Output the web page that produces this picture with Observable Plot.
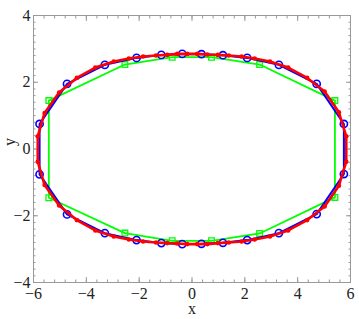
<!DOCTYPE html>
<html><head><meta charset="utf-8">
<script src="https://cdn.jsdelivr.net/npm/d3@7"></script>
<script src="https://cdn.jsdelivr.net/npm/@observablehq/plot@0.6"></script>
<style>body{margin:0;background:#fff}</style>
</head><body><div id="chart"></div>
<script>
// Red series (fine sampling), clockwise from upper left
const redX = [-5.84,-5.58,-5.03,-4.36,-3.66,-2.96,-2.39,-1.85,-1.36,-0.94,-0.56,-0.18,0.20,0.58,0.98,1.39,1.88,2.37,2.95,3.64,4.36,5.02,5.56,5.84,
              5.84,5.56,5.02,4.36,3.64,2.95,2.37,1.88,1.39,0.98,0.58,0.20,-0.18,-0.56,-0.94,-1.36,-1.85,-2.39,-2.96,-3.66,-4.36,-5.03,-5.58,-5.84];
const redY = [0.38,1.08,1.69,2.13,2.44,2.62,2.71,2.77,2.80,2.82,2.85,2.85,2.85,2.83,2.82,2.80,2.77,2.71,2.62,2.44,2.13,1.72,1.10,0.38,
              -0.38,-1.10,-1.72,-2.13,-2.44,-2.62,-2.71,-2.77,-2.80,-2.82,-2.85,-2.85,-2.85,-2.83,-2.82,-2.80,-2.77,-2.71,-2.62,-2.44,-2.13,-1.69,-1.08,-0.38];
// Blue series (medium sampling)
const blueX = [-5.77,-4.73,-3.30,-2.10,-1.16,-0.37,0.36,1.17,2.09,3.29,4.72,5.75,
               5.75,4.72,3.29,2.09,1.17,0.36,-0.37,-1.16,-2.10,-3.30,-4.73,-5.77];
const blueY = [0.75,1.95,2.52,2.73,2.82,2.85,2.84,2.81,2.73,2.52,1.95,0.75,
               -0.75,-1.95,-2.52,-2.73,-2.81,-2.84,-2.85,-2.82,-2.73,-2.52,-1.96,-0.76];
// Green series (coarse sampling)
const greenX = [-5.42,-2.54,-0.75,0.74,2.56,5.41, 5.41,2.56,0.74,-0.75,-2.54,-5.42];
const greenY = [1.45,2.53,2.75,2.75,2.53,1.45, -1.45,-2.53,-2.75,-2.75,-2.52,-1.46];
// Tick values
const xTicks = [-6,-4,-2,0,2,4,6];
const yTicks = [-4,-2,0,2,4];

const rows = (xs, ys) => xs.map((x, i) => ({x, y: ys[i]}));
const red = rows(redX, redY), blue = rows(blueX, blueY), green = rows(greenX, greenY);
const xMinor = d3.range(-6, 6.001, 0.4).map(v => +v.toFixed(2));
const yMinor = d3.range(-4, 4.001, 0.2).map(v => +v.toFixed(2));

const serif = "'Liberation Serif','Times New Roman',serif";
const tickColor = "#999";
const tickMarks = [];
for (const a of ["bottom","top"]) {
  tickMarks.push(Plot.axisX(xMinor, {anchor: a, tickSize: -2.5, text: null, stroke: tickColor}));
  tickMarks.push(Plot.axisX(xTicks, {anchor: a, tickSize: -5, text: null, stroke: tickColor}));
}
for (const a of ["left","right"]) {
  tickMarks.push(Plot.axisY(yMinor, {anchor: a, tickSize: -2.5, text: null, stroke: tickColor}));
  tickMarks.push(Plot.axisY(yTicks, {anchor: a, tickSize: -5, text: null, stroke: tickColor}));
}

const chart = Plot.plot({
  width: 359, height: 319,
  marginLeft: 33, marginRight: 9, marginTop: 15, marginBottom: 37,
  x: {domain: [-6, 6], label: null},
  y: {domain: [-4, 4], label: null},
  style: {fontFamily: serif, background: "#fff"},
  marks: [
    Plot.frame({stroke: tickColor}),
    ...tickMarks,
    Plot.axisX(xTicks, {anchor: "bottom", tickSize: 0, tickPadding: 5, fontSize: 16, fill: "#222", label: null}),
    Plot.axisY(yTicks, {anchor: "left", tickSize: 0, tickPadding: 3, fontSize: 16, fill: "#222", label: null}),
    Plot.text(["x"], {frameAnchor: "bottom", dy: 31, fontSize: 16, fill: "#222"}),
    Plot.text(["y"], {frameAnchor: "left", dx: -24, dy: -3, rotate: -90, fontSize: 16, fill: "#222"}),
    Plot.line(green, {x: "x", y: "y", stroke: "#00ff00", strokeWidth: 1.8, curve: "linear-closed"}),
    Plot.dot(green, {x: "x", y: "y", symbol: "square", r: 3.2, stroke: "#00ff00", strokeWidth: 1.3, fill: "none"}),
    Plot.line(blue, {x: "x", y: "y", stroke: "#0000ff", strokeWidth: 2, curve: "linear-closed"}),
    Plot.dot(blue, {x: "x", y: "y", r: 3.6, stroke: "#0000ff", strokeWidth: 1.6, fill: "none"}),
    Plot.line(red, {x: "x", y: "y", stroke: "#ff0000", strokeWidth: 2.6, curve: "linear-closed"}),
    Plot.dot(red, {x: "x", y: "y", r: 2.3, fill: "#ff0000", stroke: "none"})
  ]
});
document.getElementById("chart").append(chart);
</script>
</body></html>
